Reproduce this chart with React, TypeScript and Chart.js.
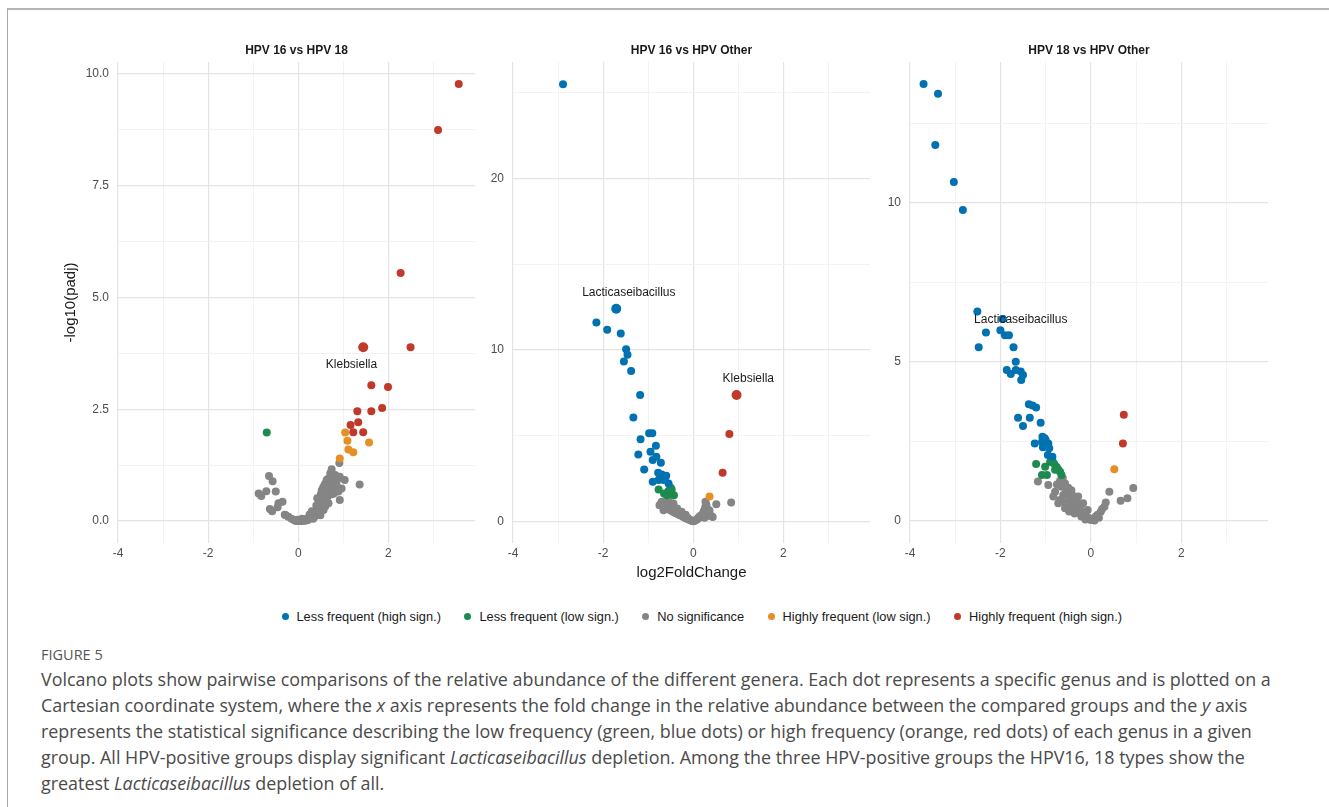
import React, { useEffect, useRef } from 'react';
import { Chart, registerables } from 'chart.js';

Chart.register(...registerables);

type Pt = [number, number];

// ---------- categories / legend ----------
const categories = [
  'Less frequent (high sign.)',
  'Less frequent (low sign.)',
  'No significance',
  'Highly frequent (low sign.)',
  'Highly frequent (high sign.)',
];
const categoryColors = ['#0072B2', '#1D8A4E', '#858585', '#E68F25', '#C0392B'];

const panelTitles = ['HPV 16 vs HPV 18', 'HPV 16 vs HPV Other', 'HPV 18 vs HPV Other'];

// ---------- axes ----------
const xRange: Pt = [-4, 3.92];
const xMajor = [-4, -2, 0, 2];
const xMinor = [-3, -1, 1, 3];

const p1YRange: Pt = [-0.49, 10.27];
const p1YMajor = [0, 2.5, 5, 7.5, 10];
const p1YMinor = [1.25, 3.75, 6.25, 8.75];

const p2YRange: Pt = [-1.27, 26.8];
const p2YMajor = [0, 10, 20];
const p2YMinor = [5, 15, 25];

const p3YRange: Pt = [-0.69, 14.43];
const p3YMajor = [0, 5, 10];
const p3YMinor = [2.5, 7.5, 12.5];

// ---------- panel 1: HPV 16 vs HPV 18 ----------
const p1Blue: Pt[] = [];
const p1Green: Pt[] = [[-0.7, 1.98]];
const p1Gray: Pt[] = [
  [-0.88, 0.62], [-0.82, 0.56], [-0.71, 0.67], [-0.65, 1.01], [-0.57, 0.89], [-0.5, 0.66],
  [-0.63, 0.27], [-0.58, 0.22], [-0.44, 0.4], [-0.35, 0.43], [-0.46, 0.31], [-0.28, 0.13],
  [-0.22, 0.1], [-0.3, 0.14], [-0.15, 0.05], [-0.09, 0.02], [-0.05, 0.0], [0.0, 0.0],
  [0.05, 0.0], [0.1, 0.0], [0.15, 0.01], [0.2, 0.02], [0.23, 0.04], [0.27, 0.07],
  [0.31, 0.1], [0.34, 0.17], [0.38, 0.2], [0.42, 0.25], [0.45, 0.3], [0.45, 0.4],
  [0.49, 0.54], [0.47, 0.47], [0.52, 0.69], [0.5, 0.6], [0.55, 0.75], [0.6, 0.84],
  [0.63, 0.92], [0.58, 0.8], [0.66, 0.95], [0.71, 0.77], [0.78, 0.92], [0.82, 1.03],
  [0.92, 0.99], [1.03, 0.92], [0.96, 0.73], [0.92, 0.47], [0.89, 0.66], [0.67, 0.4],
  [0.56, 0.25], [0.49, 0.13], [0.36, 0.1], [0.63, 0.62], [0.74, 0.6], [0.82, 0.69],
  [0.56, 0.57], [0.42, 0.51], [0.71, 1.07], [0.86, 0.92], [0.74, 1.16], [0.91, 1.3],
  [1.36, 0.82], [0.6, 0.33], [0.53, 0.45], [0.65, 0.55], [0.7, 0.7], [0.76, 0.82],
  [0.4, 0.35], [0.3, 0.22], [0.25, 0.15], [0.68, 0.85], [0.57, 0.65], [0.61, 0.73],
  [0.79, 0.62], [0.85, 0.8], [0.5, 0.35], [0.44, 0.2], [0.33, 0.05], [0.18, 0.05],
  [0.12, 0.02], [0.08, 0.05], [-0.03, 0.03],
];
const p1Orange: Pt[] = [[1.04, 1.98], [1.09, 1.8], [1.11, 1.6], [1.22, 1.54], [1.57, 1.76], [0.92, 1.4]];
const p1Red: Pt[] = [
  [3.56, 9.78], [3.1, 8.75], [2.27, 5.55], [2.49, 3.89], [1.62, 3.04], [1.99, 3.0],
  [1.31, 2.46], [1.62, 2.46], [1.86, 2.53], [1.16, 2.15], [1.33, 2.21], [1.22, 1.99], [1.44, 1.99],
];

// ---------- panel 2: HPV 16 vs HPV Other ----------
const p2Blue: Pt[] = [
  [-2.89, 25.5], [-2.15, 11.6], [-1.91, 11.17], [-1.61, 10.95], [-1.49, 10.04], [-1.46, 9.71],
  [-1.54, 9.32], [-1.38, 8.77], [-1.18, 7.37], [-1.33, 6.06], [-0.98, 5.13], [-0.91, 5.13],
  [-1.17, 4.78], [-0.83, 4.4], [-1.22, 3.9], [-0.95, 4.05], [-0.82, 3.76], [-0.9, 3.57],
  [-0.72, 3.41], [-1.09, 3.02], [-0.78, 2.83], [-0.7, 2.73], [-0.6, 2.65], [-0.9, 2.3],
  [-0.77, 2.4], [-0.66, 2.4], [-0.55, 2.2], [-0.73, 2.59], [-0.63, 2.5],
];
const p2Green: Pt[] = [
  [-0.77, 1.85], [-0.65, 1.62], [-0.55, 1.77], [-0.48, 1.85], [-0.43, 1.52], [-0.59, 1.52],
  [-0.52, 1.62], [-0.5, 1.95],
];
const p2Gray: Pt[] = [
  [-0.75, 0.94], [-0.7, 1.13], [-0.55, 1.23], [-0.44, 1.03], [-0.72, 1.02], [-0.68, 0.9],
  [-0.66, 0.64], [-0.62, 0.85], [-0.6, 0.75], [-0.58, 0.98], [-0.55, 0.7], [-0.52, 0.85],
  [-0.5, 0.62], [-0.48, 0.76], [-0.45, 0.55], [-0.42, 0.68], [-0.4, 0.48], [-0.38, 0.6],
  [-0.35, 0.42], [-0.33, 0.52], [-0.3, 0.35], [-0.28, 0.44], [-0.25, 0.3], [-0.22, 0.25],
  [-0.2, 0.33], [-0.18, 0.2], [-0.15, 0.15], [-0.12, 0.19], [-0.1, 0.1], [-0.07, 0.07],
  [-0.05, 0.04], [-0.02, 0.02], [0.0, 0.0], [0.02, 0.02], [0.05, 0.06], [0.08, 0.1],
  [0.1, 0.16], [0.12, 0.22], [0.15, 0.3], [0.17, 0.24], [0.2, 0.4], [0.22, 0.5],
  [0.24, 0.62], [0.26, 0.74], [0.27, 0.86], [0.29, 0.96], [0.27, 1.13], [0.32, 0.7],
  [0.34, 0.5], [0.36, 0.62], [0.4, 0.3], [0.43, 0.25], [0.3, 0.3], [0.25, 0.2],
  [0.51, 0.99], [0.84, 1.09], [-0.64, 1.08], [-0.47, 0.95], [-0.36, 0.75], [-0.26, 0.55],
  [-0.17, 0.38],
];
const p2Orange: Pt[] = [[0.36, 1.44]];
const p2Red: Pt[] = [[0.8, 5.09], [0.65, 2.83]];

// ---------- panel 3: HPV 18 vs HPV Other ----------
const p3Blue: Pt[] = [
  [-3.7, 13.74], [-3.38, 13.43], [-3.44, 11.82], [-3.03, 10.66], [-2.83, 9.78], [-2.51, 6.59],
  [-1.95, 6.35], [-2.32, 5.93], [-2.0, 6.0], [-1.9, 5.84], [-1.81, 5.84], [-2.48, 5.46],
  [-1.71, 5.46], [-1.66, 5.01], [-1.86, 4.75], [-1.77, 4.62], [-1.66, 4.75], [-1.55, 4.7],
  [-1.5, 4.59], [-1.54, 4.43], [-1.37, 3.67], [-1.29, 3.63], [-1.21, 3.57], [-1.61, 3.25],
  [-1.35, 3.25], [-1.11, 3.09], [-1.5, 2.99], [-1.07, 2.65], [-1.0, 2.55], [-1.24, 2.44],
  [-1.08, 2.49], [-0.94, 2.44], [-1.06, 2.32], [-0.92, 2.29], [-0.95, 2.08], [-0.85, 2.02],
  [-1.02, 2.6], [-0.98, 2.38],
];
const p3Green: Pt[] = [
  [-1.21, 1.79], [-1.01, 1.71], [-0.9, 1.86], [-0.85, 1.9], [-0.76, 1.71], [-0.68, 1.55],
  [-1.08, 1.45], [-0.97, 1.45], [-0.65, 1.45], [-0.79, 1.61], [-0.81, 1.8], [-0.72, 1.62],
];
const p3Gray: Pt[] = [
  [-1.17, 1.24], [-0.94, 1.13], [-0.68, 1.27], [-0.65, 1.08], [-0.79, 0.92], [-0.61, 0.82],
  [-0.83, 0.77], [-0.68, 0.66], [-0.54, 0.56], [-0.43, 0.45], [-0.32, 0.35], [-0.21, 0.24],
  [-0.1, 0.14], [0.0, 0.03], [0.11, 0.14], [0.22, 0.29], [0.3, 0.45], [0.33, 0.58],
  [0.41, 0.92], [0.66, 0.64], [0.81, 0.72], [0.94, 1.04], [-0.57, 1.18], [-0.43, 0.97],
  [-0.28, 0.77], [-0.17, 0.56], [-0.07, 0.35], [-0.72, 0.56], [-0.57, 0.4], [-0.36, 0.24],
  [-0.21, 0.14], [-0.62, 1.35], [-0.5, 1.05], [-0.47, 0.75], [-0.38, 0.62], [-0.25, 0.45],
  [-0.15, 0.3], [-0.05, 0.1], [0.05, 0.05], [0.15, 0.2], [0.25, 0.38], [0.18, 0.1],
  [-0.75, 1.15], [-0.55, 0.9], [-0.4, 0.8], [-0.6, 0.6], [-0.3, 0.55], [-0.48, 0.3],
  [-0.12, 0.05], [0.08, 0.02],
];
const p3Orange: Pt[] = [[0.52, 1.63]];
const p3Red: Pt[] = [[0.73, 3.34], [0.71, 2.44]];

// ---------- labelled genera (point, category index, text position) ----------
type GenusLabel = { genus: string; x: number; y: number; cat: number; tx: number; ty: number; big: boolean };
const p1Labels: GenusLabel[] = [
  { genus: 'Klebsiella', x: 1.44, y: 3.89, cat: 4, tx: 1.18, ty: 3.51, big: true },
];
const p2Labels: GenusLabel[] = [
  { genus: 'Lacticaseibacillus', x: -1.71, y: 12.4, cat: 0, tx: -1.43, ty: 13.33, big: true },
  { genus: 'Klebsiella', x: 0.96, y: 7.37, cat: 4, tx: 1.22, ty: 8.3, big: true },
];
const p3Labels: GenusLabel[] = [
  { genus: 'Lacticaseibacillus', x: -1.95, y: 6.35, cat: 0, tx: -1.55, ty: 6.32, big: false },
];

// ---------- caption ----------
const figureLabel = 'FIGURE 5';
type Seg = { t: string; i?: boolean };
const captionLines: Seg[][] = [
  [{ t: 'Volcano plots show pairwise comparisons of the relative abundance of the different genera. Each dot represents a specific genus and is plotted on a' }],
  [
    { t: 'Cartesian coordinate system, where the ' }, { t: 'x', i: true },
    { t: ' axis represents the fold change in the relative abundance between the compared groups and the ' },
    { t: 'y', i: true }, { t: ' axis' },
  ],
  [{ t: 'represents the statistical significance describing the low frequency (green, blue dots) or high frequency (orange, red dots) of each genus in a given' }],
  [
    { t: 'group. All HPV-positive groups display significant ' }, { t: 'Lacticaseibacillus', i: true },
    { t: ' depletion. Among the three HPV-positive groups the HPV16, 18 types show the' },
  ],
  [{ t: 'greatest ' }, { t: 'Lacticaseibacillus', i: true }, { t: ' depletion of all.' }],
];

// ---------- panel definitions ----------
const FONT = '"Liberation Sans", Arial, Helvetica, sans-serif';

type PanelDef = {
  title: string;
  series: Pt[][]; // in category order
  labels: GenusLabel[];
  yRange: Pt;
  yMajor: number[];
  yMinor: number[];
  yDecimals: number;
  showYTitle: boolean;
  showXTitle: boolean;
  box: { left: number; width: number; yAxisWidth: number };
};

const panels: PanelDef[] = [
  {
    title: panelTitles[0], series: [p1Blue, p1Green, p1Gray, p1Orange, p1Red], labels: p1Labels,
    yRange: p1YRange, yMajor: p1YMajor, yMinor: p1YMinor, yDecimals: 1, showYTitle: true, showXTitle: false,
    box: { left: 60, width: 420, yAxisWidth: 58 },
  },
  {
    title: panelTitles[1], series: [p2Blue, p2Green, p2Gray, p2Orange, p2Red], labels: p2Labels,
    yRange: p2YRange, yMajor: p2YMajor, yMinor: p2YMinor, yDecimals: 0, showYTitle: false, showXTitle: true,
    box: { left: 483, width: 392, yAxisWidth: 30 },
  },
  {
    title: panelTitles[2], series: [p3Blue, p3Green, p3Gray, p3Orange, p3Red], labels: p3Labels,
    yRange: p3YRange, yMajor: p3YMajor, yMinor: p3YMinor, yDecimals: 0, showYTitle: false, showXTitle: false,
    box: { left: 880, width: 392, yAxisWidth: 30 },
  },
];

const CANVAS_TOP = 30;
const CANVAS_HEIGHT = 558;

const genusLabelPlugin = {
  id: 'genusLabels',
  afterDatasetsDraw(chart: any, _args: any, opts: any) {
    const { ctx, scales } = chart;
    const xs = scales.x;
    const ys = scales.y;
    ctx.save();
    ctx.font = `12px ${FONT}`;
    ctx.fillStyle = '#1A1A1A';
    ctx.textAlign = 'center';
    ctx.textBaseline = 'middle';
    for (const l of (opts.labels || []) as GenusLabel[]) {
      ctx.fillText(l.genus, xs.getPixelForValue(l.tx), ys.getPixelForValue(l.ty));
    }
    ctx.restore();
  },
};

function gridOpts(major: number[]) {
  return {
    drawTicks: false,
    color: (c: any) => (c.tick && major.includes(c.tick.value) ? '#E4E4E4' : '#F3F3F3'),
    lineWidth: (c: any) => (c.tick && major.includes(c.tick.value) ? 1.2 : 1),
  };
}

function Panel({ def }: { def: PanelDef }) {
  const ref = useRef<HTMLCanvasElement>(null);
  useEffect(() => {
    if (!ref.current) return;
    // draw order: Chart.js paints dataset 0 last, so grey is placed at the end
    const order = [4, 3, 0, 1, 2];
    const datasets = order.map((ci) => {
      const base = def.series[ci].map(([x, y]) => ({ x, y }));
      const extra = def.labels.filter((l) => l.cat === ci);
      const data = [...base, ...extra.map((l) => ({ x: l.x, y: l.y }))];
      const radii = [...base.map(() => 4), ...extra.map((l) => (l.big ? 5 : 4))];
      return {
        label: categories[ci],
        data,
        pointRadius: radii,
        pointHoverRadius: radii,
        pointBackgroundColor: categoryColors[ci],
        pointBorderWidth: 0,
        borderWidth: 0,
        showLine: false,
      };
    });
    const xTicks = [...xMajor, ...xMinor].sort((a, b) => a - b);
    const yTicks = [...def.yMajor, ...def.yMinor].sort((a, b) => a - b);
    const chart = new Chart(ref.current, {
      type: 'scatter',
      data: { datasets },
      plugins: [genusLabelPlugin],
      options: {
        responsive: false,
        animation: false,
        events: [],
        layout: { padding: 0 },
        plugins: {
          legend: { display: false },
          tooltip: { enabled: false },
          title: {
            display: true,
            text: def.title,
            fullSize: false,
            color: '#1A1A1A',
            font: { size: 12, weight: 'bold', family: FONT },
            padding: { top: 13, bottom: 4.6 },
          },
          genusLabels: { labels: def.labels },
        } as any,
        scales: {
          x: {
            type: 'linear',
            min: xRange[0],
            max: xRange[1],
            afterBuildTicks: (s: any) => { s.ticks = xTicks.map((v) => ({ value: v })); },
            afterFit: (s: any) => { s.height = 45; },
            border: { display: false },
            grid: gridOpts(xMajor),
            ticks: {
              autoSkip: false,
              maxRotation: 0,
              padding: 3,
              color: '#4D4D4D',
              font: { size: 12, family: FONT },
              callback: (v: any) => (xMajor.includes(Number(v)) ? String(v) : ''),
            },
            title: {
              display: def.showXTitle,
              text: 'log2FoldChange',
              color: '#1A1A1A',
              font: { size: 15, family: FONT },
              padding: { top: 0, bottom: 6 },
            },
          },
          y: {
            type: 'linear',
            min: def.yRange[0],
            max: def.yRange[1],
            afterBuildTicks: (s: any) => { s.ticks = yTicks.map((v) => ({ value: v })); },
            afterFit: (s: any) => { s.width = def.box.yAxisWidth; },
            border: { display: false },
            grid: gridOpts(def.yMajor),
            ticks: {
              autoSkip: false,
              padding: 9,
              color: '#4D4D4D',
              font: { size: 12, family: FONT },
              callback: (v: any) => (def.yMajor.includes(Number(v)) ? Number(v).toFixed(def.yDecimals) : ''),
            },
            title: {
              display: def.showYTitle,
              text: '-log10(padj)',
              color: '#1A1A1A',
              font: { size: 15, family: FONT },
              padding: { top: 2, bottom: 0 },
            },
          },
        },
      } as any,
    });
    return () => chart.destroy();
  }, [def]);
  return (
    <canvas
      ref={ref}
      width={def.box.width}
      height={CANVAS_HEIGHT}
      style={{ position: 'absolute', left: def.box.left, top: CANVAS_TOP, width: def.box.width, height: CANVAS_HEIGHT }}
    />
  );
}

export default function App() {
  return (
    <div style={{ position: 'absolute', left: 0, top: 0, width: 1329, height: 807, overflow: 'hidden', background: '#fff' }}>
      <div
        style={{
          position: 'absolute', left: 7, top: 8, width: 1322, height: 799, boxSizing: 'border-box',
          borderTop: '2px solid #B4B4B4', borderLeft: '1px solid #A8A8A8',
        }}
      />
      {panels.map((p, i) => <Panel key={i} def={p} />)}
      <div
        style={{
          position: 'absolute', left: 281.5, top: 607, height: 18, display: 'flex', alignItems: 'center',
          whiteSpace: 'nowrap', fontFamily: FONT, fontSize: 12.8, color: '#1A1A1A',
        }}
      >
        {categories.map((c, i) => (
          <div key={c} style={{ display: 'flex', alignItems: 'center', marginRight: 23.5 }}>
            <span style={{ display: 'inline-block', width: 7, height: 7, borderRadius: '50%', background: categoryColors[i], marginRight: 8 }} />
            <span>{c}</span>
          </div>
        ))}
      </div>
      <div
        style={{
          position: 'absolute', left: 41, top: 645, fontFamily: '"Open Sans", sans-serif', fontSize: 14.5,
          color: '#555', lineHeight: '20px', whiteSpace: 'nowrap',
        }}
      >
        {figureLabel}
      </div>
      <div
        style={{
          position: 'absolute', left: 41, top: 666, fontFamily: '"Open Sans", sans-serif', fontSize: 17.9,
          color: '#4A4A4A', lineHeight: '26px', whiteSpace: 'nowrap',
        }}
      >
        {captionLines.map((line, li) => (
          <div key={li}>
            {line.map((s, si) => (s.i ? <i key={si}>{s.t}</i> : <span key={si}>{s.t}</span>))}
          </div>
        ))}
      </div>
    </div>
  );
}
